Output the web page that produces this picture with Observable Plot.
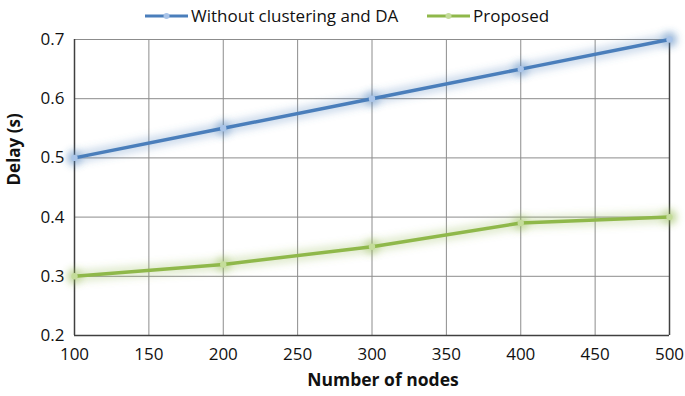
<!DOCTYPE html>
<html>
<head>
<meta charset="utf-8">
<script src="https://cdn.jsdelivr.net/npm/d3@7"></script>
<script src="https://cdn.jsdelivr.net/npm/@observablehq/plot@0.6"></script>
<style>
  html, body { margin: 0; padding: 0; background: #fff; }
  body { width: 685px; height: 396px; overflow: hidden; font-family: "Open Sans", sans-serif; }
  #legend { height: 30px; position: relative; font-size: 17px; color: #111; }
  .item { position: absolute; top: 4px; display: flex; align-items: center; gap: 3px; white-space: nowrap; }
  .swatch { width: 43px; height: 20px; }
</style>
</head>
<body>
<div id="legend"></div>
<div id="chart"></div>
<script>
// Delay versus network size for the two schemes
const nodes = [100, 200, 300, 400, 500];
const baselineDelay = [0.5, 0.55, 0.6, 0.65, 0.7];
const proposedDelay = [0.3, 0.32, 0.35, 0.39, 0.4];
const seriesNames = ["Without clustering and DA", "Proposed"];
const seriesColors = ["#4a7ebb", "#8fb84a"];
const markerColors = ["#a9c4e8", "#c4dc9a"];
const xTicks = [100, 150, 200, 250, 300, 350, 400, 450, 500];
const yTicks = [0.2, 0.3, 0.4, 0.5, 0.6, 0.7];

const rows = [
  ...nodes.map((n, i) => ({nodes: n, delay: baselineDelay[i], series: seriesNames[0]})),
  ...nodes.map((n, i) => ({nodes: n, delay: proposedDelay[i], series: seriesNames[1]}))
];

// Legend above the plot
const legend = document.getElementById("legend");
const legendX = [145, 427];
seriesNames.forEach((name, i) => {
  const item = document.createElement("div");
  item.className = "item";
  item.style.left = legendX[i] + "px";
  item.innerHTML =
    `<svg class="swatch" viewBox="0 0 43 20"><line x1="0" x2="43" y1="10" y2="10" stroke="${seriesColors[i]}" stroke-width="3"/>` +
    `<circle cx="21.5" cy="10" r="3" fill="${markerColors[i]}"/></svg><span>${name}</span>`;
  legend.appendChild(item);
});

const chart = Plot.plot({
  width: 685,
  height: 366,
  marginTop: 9,
  marginBottom: 61,
  marginLeft: 74,
  marginRight: 16,
  style: {fontFamily: "Open Sans, sans-serif", fontSize: "17px", color: "#111", background: "#fff", overflow: "visible"},
  x: {domain: [100, 500], label: null},
  y: {domain: [0.2, 0.7], label: null},
  color: {domain: seriesNames, range: seriesColors},
  marks: [
    Plot.gridX(xTicks, {stroke: "#8c8c8c", strokeOpacity: 1, strokeWidth: 1}),
    Plot.gridY(yTicks, {stroke: "#8c8c8c", strokeOpacity: 1, strokeWidth: 1}),
    Plot.ruleX([100, 500], {stroke: "#404040", strokeWidth: 1.5}),
    Plot.ruleY([0.2], {stroke: "#404040", strokeWidth: 1.5}),
    // soft halo behind each series
    Plot.line(rows, {x: "nodes", y: "delay", z: "series", stroke: "series", strokeWidth: 13, strokeOpacity: 0.25, ariaDescription: "glow"}),
    Plot.dot(rows, {x: "nodes", y: "delay", fill: "series", r: 8, fillOpacity: 0.35, ariaDescription: "glow"}),
    Plot.line(rows, {x: "nodes", y: "delay", z: "series", stroke: "series", strokeWidth: 3.5}),
    Plot.dot(rows, {x: "nodes", y: "delay", fill: d => markerColors[seriesNames.indexOf(d.series)], r: 3.2}),
    Plot.axisX(xTicks, {tickSize: 0, tickPadding: 12, label: null, tickFormat: d3.format("d"), fontSize: 17}),
    Plot.axisY(yTicks, {tickSize: 0, tickPadding: 10, label: null, tickFormat: d3.format(".1f"), fontSize: 17}),
    Plot.text(["Number of nodes"], {frameAnchor: "bottom", dx: 11, dy: 50, fontWeight: "bold", fontSize: 17.5}),
    Plot.text(["Delay (s)"], {frameAnchor: "left", dx: -60, dy: -2, rotate: -90, fontWeight: "bold", fontSize: 17})
  ]
});

// blur filter for the halo layers
const svg = d3.select(chart);
svg.insert("defs", ":first-child")
  .append("filter").attr("id", "halo").attr("x", "-20%").attr("y", "-50%").attr("width", "140%").attr("height", "200%")
  .append("feGaussianBlur").attr("stdDeviation", 3.5);
svg.selectAll("g[aria-description=glow]").attr("filter", "url(#halo)");

document.getElementById("chart").appendChild(chart);
</script>
</body>
</html>
